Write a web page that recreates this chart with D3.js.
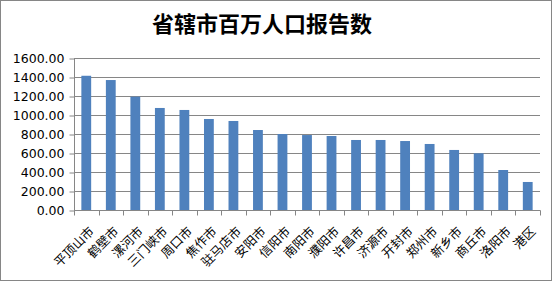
<!DOCTYPE html>
<html lang="zh">
<head>
<meta charset="UTF-8">
<script src="https://cdnjs.cloudflare.com/ajax/libs/d3/7.8.5/d3.min.js"></script>
<style>
  body { margin: 0; background: #fff; }
  svg { display: block; }
</style>
</head>
<body>
<div id="chart"></div>
<script>
  var cities = ["平顶山市", "鹤壁市", "漯河市", "三门峡市", "周口市", "焦作市", "驻马店市", "安阳市", "信阳市",
                "南阳市", "濮阳市", "许昌市", "济源市", "开封市", "郑州市", "新乡市", "商丘市", "洛阳市", "港区"];
  var values = [1413, 1368, 1193, 1074, 1053, 958, 937, 842, 800, 789, 779, 737, 737, 726, 695, 632, 597, 421, 295];
  var yTicks = [0, 200, 400, 600, 800, 1000, 1200, 1400, 1600];

  var width = 555, height = 282;
  var plotL = 74, plotR = 540, plotT = 58, plotB = 210;

  var svg = d3.select("#chart").append("svg")
      .attr("width", width)
      .attr("height", height);

  // outer frame
  svg.append("rect")
      .attr("x", 0.5).attr("y", 0.5)
      .attr("width", 551).attr("height", 280)
      .attr("fill", "#fff")
      .attr("stroke", "#868686");

  svg.append("text")
      .attr("x", 262).attr("y", 32)
      .attr("text-anchor", "middle")
      .style("font-family", "'Noto Sans CJK SC'")
      .style("font-weight", "bold")
      .style("font-size", "22px")
      .text("省辖市百万人口报告数");

  var x = d3.scaleBand().domain(cities).range([plotL, plotR]).paddingInner(0.6).paddingOuter(0.3);
  var y = d3.scaleLinear().domain([0, 1600]).range([plotB, plotT]);

  // gridlines
  svg.append("g").selectAll("line")
      .data(yTicks.slice(1))
      .enter().append("line")
      .attr("x1", plotL).attr("x2", plotR)
      .attr("y1", function(d) { return Math.round(y(d)) + 0.5; })
      .attr("y2", function(d) { return Math.round(y(d)) + 0.5; })
      .attr("stroke", "#868686");

  svg.append("g").selectAll("rect")
      .data(values)
      .enter().append("rect")
      .attr("x", function(d, i) { return x(cities[i]); })
      .attr("width", x.bandwidth())
      .attr("y", function(d) { return y(d); })
      .attr("height", function(d) { return y(0) - y(d); })
      .attr("fill", "#4F81BD");

  var yAxis = svg.append("g")
      .attr("transform", "translate(" + (plotL + 0.5) + ",0.5)")
      .call(d3.axisLeft(y).tickValues(yTicks).tickFormat(d3.format(".2f")).tickSize(5).tickPadding(5));
  yAxis.selectAll("path, line").attr("stroke", "#868686");
  yAxis.select(".domain").attr("d", "M0," + plotT + "V" + plotB);
  yAxis.selectAll("text")
      .style("font-family", "'DejaVu Sans'")
      .style("font-size", "12.5px")
      .attr("fill", "#000");

  // x axis with ticks at band edges
  var xg = svg.append("g").attr("transform", "translate(0," + (Math.round(plotB) + 0.5) + ")");
  xg.append("line").attr("x1", plotL).attr("x2", plotR + 0.5).attr("stroke", "#868686");
  var step = (plotR - plotL) / cities.length;
  xg.selectAll(".tk")
      .data(d3.range(cities.length + 1))
      .enter().append("line")
      .attr("class", "tk")
      .attr("x1", function(d) { return Math.round(plotL + d * step) + 0.5; })
      .attr("x2", function(d) { return Math.round(plotL + d * step) + 0.5; })
      .attr("y1", 0).attr("y2", 5)
      .attr("stroke", "#868686");

  xg.selectAll(".lbl")
      .data(cities)
      .enter().append("text")
      .attr("class", "lbl")
      .attr("transform", function(d) {
        return "translate(" + (x(d) + x.bandwidth() / 2 + 2) + ",15) rotate(-45)";
      })
      .attr("text-anchor", "end")
      .attr("dy", "0.75em")
      .style("font-family", "'Noto Sans CJK SC'")
      .style("font-size", "12.5px")
      .attr("fill", "#000")
      .text(function(d) { return d; });
</script>
</body>
</html>
